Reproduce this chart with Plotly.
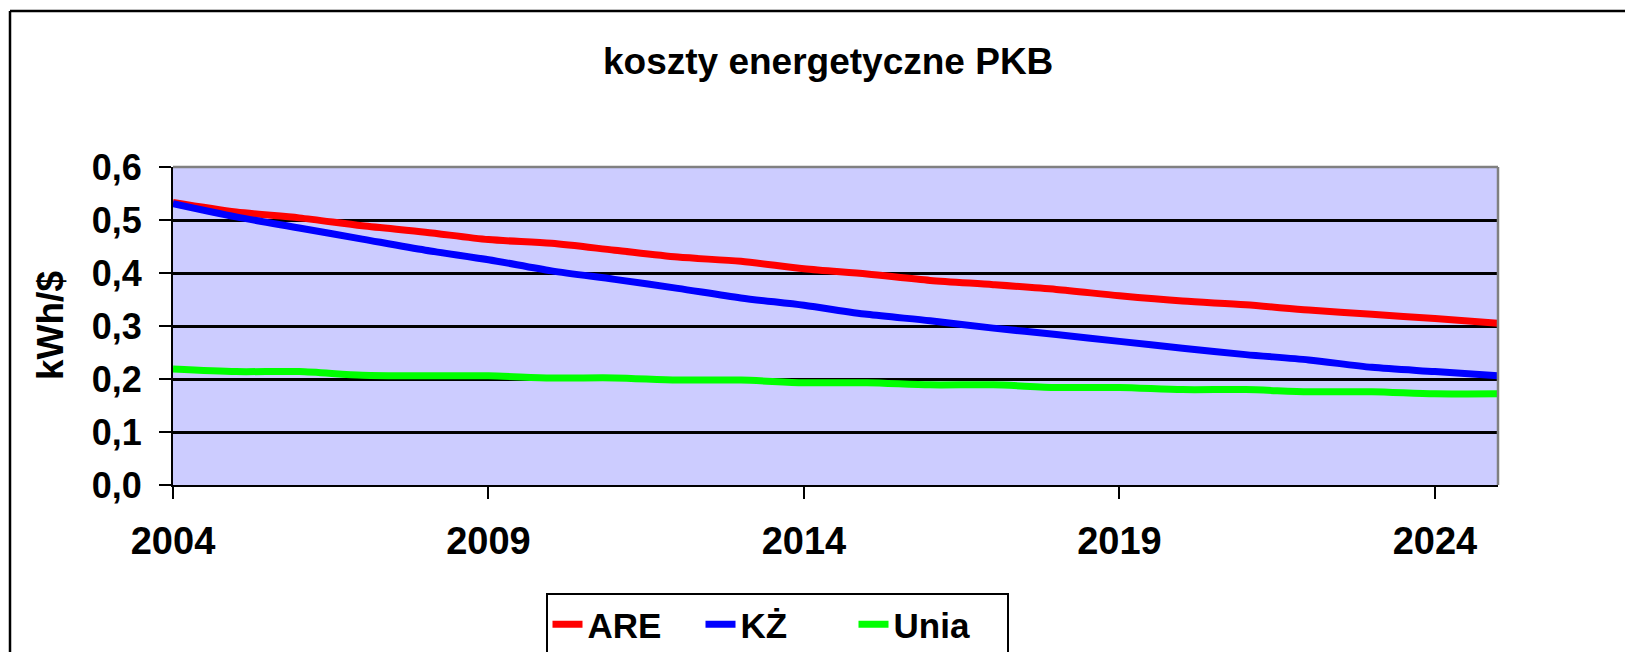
import plotly.graph_objects as go

years = list(range(2004, 2026))
are = [0.533, 0.515, 0.504, 0.489, 0.477, 0.463, 0.456, 0.443, 0.430, 0.422, 0.408,
       0.398, 0.386, 0.378, 0.369, 0.357, 0.347, 0.340, 0.330, 0.322, 0.314, 0.305]
kz = [0.531, 0.506, 0.485, 0.464, 0.443, 0.425, 0.404, 0.388, 0.371, 0.353, 0.339,
      0.322, 0.310, 0.296, 0.284, 0.271, 0.258, 0.246, 0.236, 0.222, 0.214, 0.206]
unia = [0.219, 0.214, 0.214, 0.207, 0.206, 0.206, 0.202, 0.202, 0.198, 0.198, 0.193,
        0.193, 0.189, 0.189, 0.184, 0.184, 0.180, 0.180, 0.176, 0.176, 0.172, 0.172]
xtick_vals = [2004, 2009, 2014, 2019, 2024]
ytick_vals = [0.0, 0.1, 0.2, 0.3, 0.4, 0.5, 0.6]

# page is rendered with an 8px body margin; work in page pixel coordinates
O = 8
PAGE_W, PAGE_H = 1633, 652
W, H = PAGE_W - O, PAGE_H - O
L, R, T, B = 173, 1498, 167, 485   # plot area in page pixels
PW, PH = R - L, B - T

def px(x):
    return (x - L) / PW

def py(y):
    return (B - y) / PH

FONT = "Arial, 'Liberation Sans', sans-serif"

fig = go.Figure()
for name, vals, col in [("ARE", are, "#FF0000"), ("KŻ", kz, "#0000FF"), ("Unia", unia, "#00FF00")]:
    fig.add_trace(go.Scatter(x=years, y=vals, name=name, mode="lines",
                             line=dict(color=col, width=7, shape="spline", smoothing=0.8)))

fig.update_layout(
    width=W, height=H,
    margin=dict(l=L - O, r=PAGE_W - R, t=T - O, b=PAGE_H - B, autoexpand=False),
    paper_bgcolor="white", plot_bgcolor="#CCCCFF",
    separators=", ",
    font=dict(family=FONT, size=34, color="black"),
    showlegend=True,
    legend=dict(orientation="h", x=px(777), xanchor="center", y=py(593), yanchor="top",
                bordercolor="black", borderwidth=2, bgcolor="white",
                font=dict(family=FONT, size=35, color="black", weight="bold"),
                entrywidth=108, entrywidthmode="pixels", tracegroupgap=0),
    xaxis=dict(range=[2004, 2025], tickvals=xtick_vals, ticktext=[str(v) for v in xtick_vals],
               showgrid=False, zeroline=False, showline=True, linecolor="black", linewidth=2,
               ticks="outside", ticklen=12, tickwidth=2, tickcolor="black",
               tickfont=dict(family=FONT, size=38, color="black", weight="bold"),
               ticklabelstandoff=9),
    yaxis=dict(range=[0, 0.6], tickvals=ytick_vals, tickformat=".1f",
               showgrid=True, gridcolor="black", gridwidth=2.5, zeroline=False,
               showline=True, linecolor="black", linewidth=2,
               ticks="outside", ticklen=12, tickwidth=2, tickcolor="black",
               tickfont=dict(family=FONT, size=36, color="black", weight="bold"),
               ticklabelstandoff=10),
)

# plot-area border (top and right, gray)
fig.add_shape(type="line", xref="paper", yref="paper", x0=0, x1=1, y0=1, y1=1,
              line=dict(color="#808080", width=2.5))
fig.add_shape(type="line", xref="paper", yref="paper", x0=1, x1=1, y0=0, y1=1,
              line=dict(color="#808080", width=2.5))
# outer chart frame (left and top visible)
fig.add_shape(type="line", xref="paper", yref="paper", x0=px(10), x1=px(1700), y0=py(11), y1=py(11),
              line=dict(color="black", width=2.5))
fig.add_shape(type="line", xref="paper", yref="paper", x0=px(10), x1=px(10), y0=py(11), y1=py(700),
              line=dict(color="black", width=2.5))

fig.add_annotation(text="<b>koszty energetyczne PKB</b>", xref="paper", yref="paper",
                   x=px(828), y=py(61), xanchor="center", yanchor="middle", showarrow=False,
                   font=dict(family=FONT, size=37, color="black"))
fig.add_annotation(text="<b>kWh/$</b>", xref="paper", yref="paper",
                   x=px(50), y=py(326), xanchor="center", yanchor="middle", showarrow=False,
                   textangle=-90, font=dict(family=FONT, size=37, color="black"))

fig.write_html("out.html")
